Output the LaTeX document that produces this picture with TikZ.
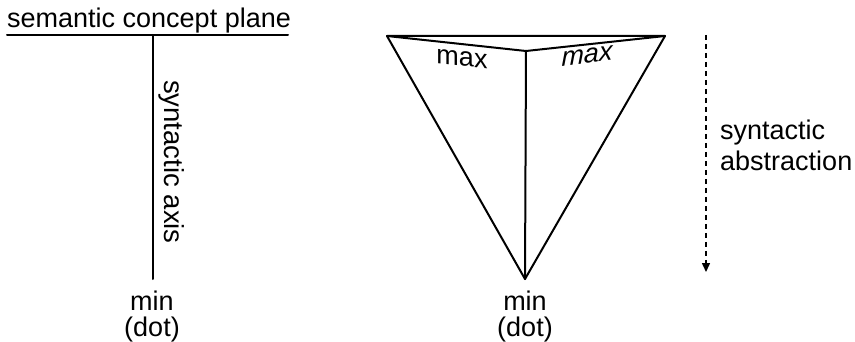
\documentclass[tikz,border=0pt]{standalone}
\usepackage{fontspec}
\setmainfont{Liberation Sans}
\usetikzlibrary{arrows.meta}
\tikzset{
  lbl/.style={inner sep=0pt, font=\fontsize{27}{29}\selectfont},
  stroke/.style={line width=2pt, line join=round, line cap=round},
  dasharrow/.style={line width=1.5pt, dash pattern=on 5pt off 4pt, -{Triangle[length=9pt,width=8pt]}}
}
\begin{document}
\begin{tikzpicture}[x=1pt,y=-1pt]
\useasboundingbox (0,0) rectangle (855,342);
% left diagram
\node[lbl, anchor=base west] (title) at (7,28) {semantic concept plane};
\coordinate (hl) at (7,35);
\coordinate (hr) at (288,35);
\coordinate (vt) at (153,35);
\coordinate (vb) at (153,279);
\draw[stroke] (hl) -- (hr);
\draw[stroke] (vt) -- (vb);
\node[lbl, rotate=-90, anchor=base west, font=\fontsize{27.5}{29}\selectfont] (axis) at (164,80) {syntactic axis};
\node[lbl, anchor=base] (lmin) at (152,310) {min};
\node[lbl, anchor=base] (ldot) at (152,336) {(dot)};
% right diagram
\coordinate (A) at (387,36);
\coordinate (B) at (665,36);
\coordinate (C) at (526,51);
\coordinate (D) at (525,279);
\draw[stroke] (A) -- (B) -- (D) -- cycle;
\draw[stroke] (A) -- (C) -- (B);
\draw[stroke] (C) -- (D);
\node[lbl, yslant=-0.1] (lmax) at (462,59) {max};
\node[lbl, yslant=0.12, font=\fontsize{27}{29}\selectfont\itshape] (rmax) at (587,56) {max};
\node[lbl, anchor=base] (rmin) at (525,310) {min};
\node[lbl, anchor=base] (rdot) at (525,336) {(dot)};
\coordinate (at) at (706,35);
\coordinate (ab) at (706,272);
\draw[dasharrow] (at) -- (ab);
\node[lbl, anchor=base west] (syn) at (720,140) {syntactic};
\node[lbl, anchor=base west] (abs) at (720,171) {abstraction};
\end{tikzpicture}
\end{document}
